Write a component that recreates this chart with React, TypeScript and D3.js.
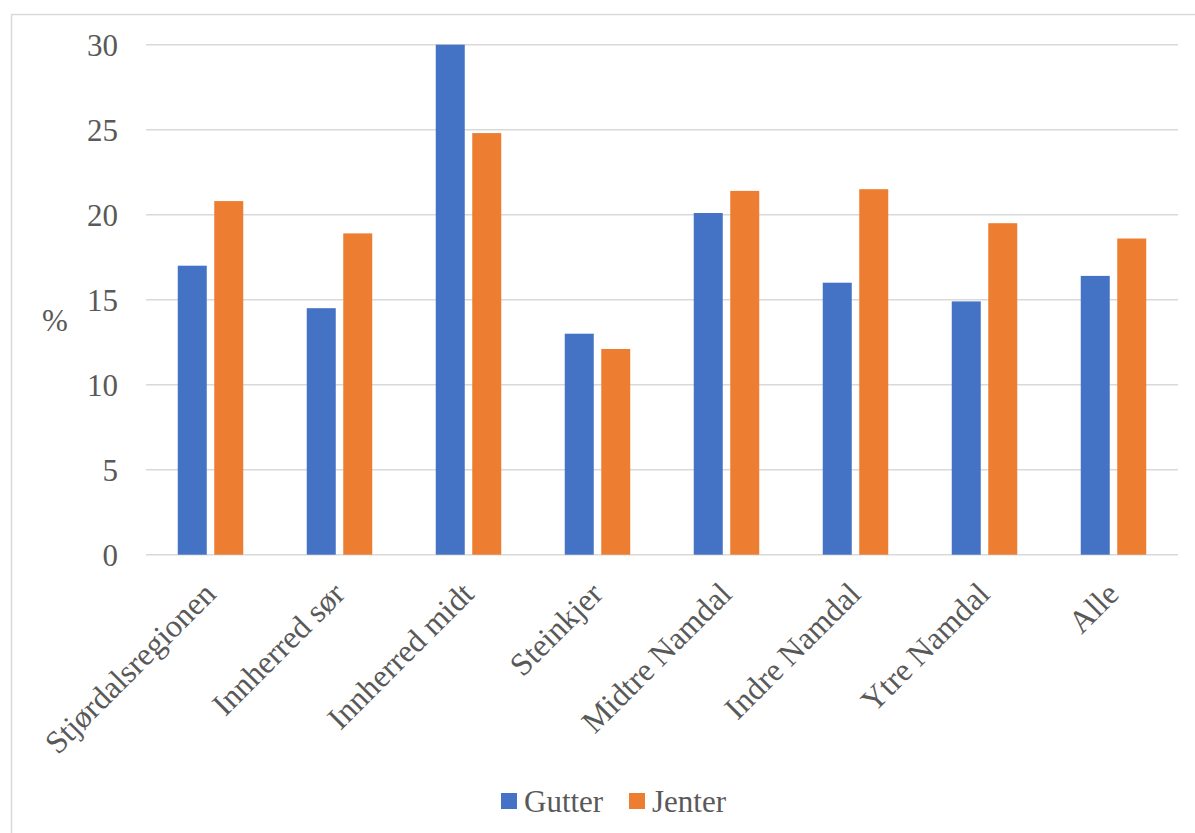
import React from "react";
import * as d3 from "d3";

const categories = ["Stjørdalsregionen", "Innherred sør", "Innherred midt", "Steinkjer", "Midtre Namdal", "Indre Namdal", "Ytre Namdal", "Alle"];
const gutter = [17.0, 14.5, 30.0, 13.0, 20.1, 16.0, 14.9, 16.4];
const jenter = [20.8, 18.9, 24.8, 12.1, 21.4, 21.5, 19.5, 18.6];
const seriesNames = ["Gutter", "Jenter"];
const colors = ["#4472C4", "#ED7D31"];
const yTicks = [0, 5, 10, 15, 20, 25, 30];

export default function App() {
  const W = 1195, H = 833;
  const left = 146, right = 1178, top = 44.7, bottom = 554.7;
  const x = d3.scaleBand<string>().domain(categories).range([left, right]);
  const y = d3.scaleLinear().domain([0, 30]).range([bottom, top]);
  const barW = 29, gap = 7.5;
  const fam = '"Liberation Serif", "DejaVu Serif", "Times New Roman", serif';
  const textStyle = { fontFamily: fam, fontSize: "31px" };
  const catStyle = { fontFamily: fam, fontSize: "32px" };
  const textColor = "#595959";
  const series = [gutter, jenter];
  return (
    <svg width={W} height={H} style={{ position: "absolute", left: 0, top: 0 }}>
      <rect x={0} y={0} width={W} height={H} fill="#fff" />
      <rect x={11.5} y={14.5} width={W + 10} height={H + 10} fill="none" stroke="#d9d9d9" strokeWidth={1.5} />
      {yTicks.map((t) => (
        <g key={t}>
          <line x1={left} x2={right} y1={y(t)} y2={y(t)} stroke="#d9d9d9" strokeWidth={1.5} />
          <text x={118} y={y(t)} dy="0.35em" textAnchor="end" style={textStyle} fill={textColor}>{t}</text>
        </g>
      ))}
      <text x={55} y={320} dy="0.35em" textAnchor="middle" style={textStyle} fill={textColor}>%</text>
      {categories.map((c, i) => {
        const cx = (x(c) as number) + x.bandwidth() / 2;
        return (
          <g key={c}>
            {series.map((s, k) => {
              const bx = k === 0 ? cx - gap / 2 - barW : cx + gap / 2;
              return <rect key={k} x={bx} y={y(s[i])} width={barW} height={bottom - y(s[i])} fill={colors[k]} />;
            })}
            <text transform={`translate(${cx + 7},${596}) rotate(-45)`} textAnchor="end" style={catStyle} fill={textColor}>{c}</text>
          </g>
        );
      })}
      {seriesNames.map((n, k) => {
        const lx = k === 0 ? 501 : 629;
        return (
          <g key={n}>
            <rect x={lx} y={793} width={16} height={16} fill={colors[k]} />
            <text x={lx + 23} y={801} dy="0.35em" style={textStyle} fill={textColor}>{n}</text>
          </g>
        );
      })}
    </svg>
  );
}
